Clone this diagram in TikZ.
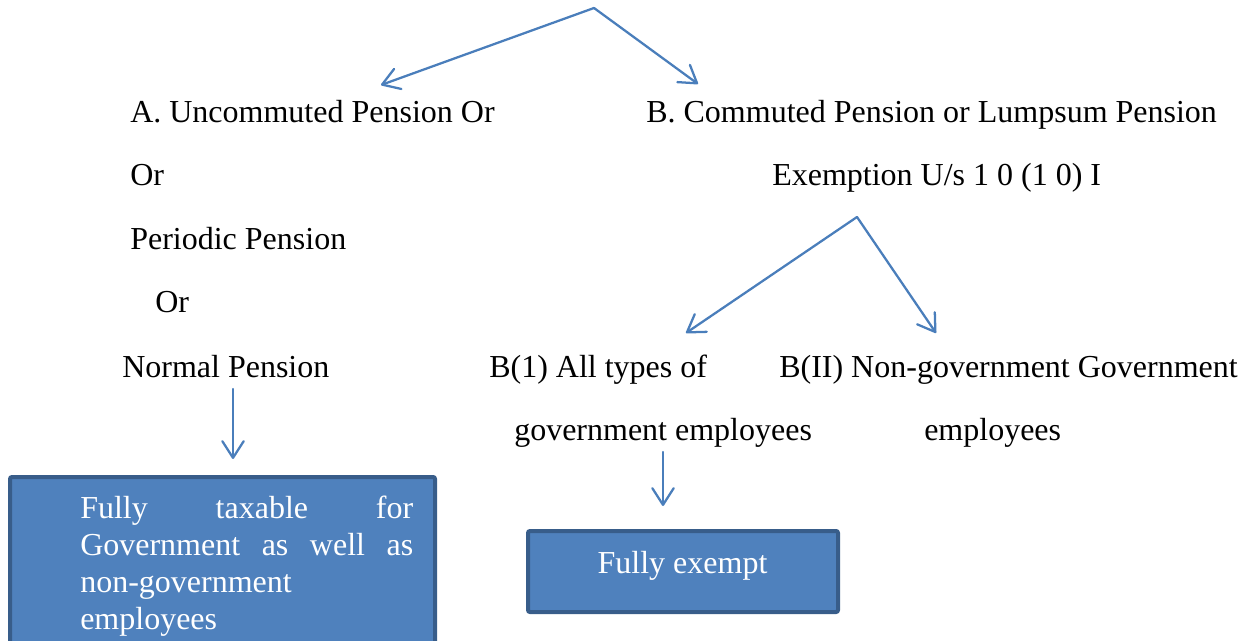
\documentclass[tikz,border=0pt]{standalone}
\usepackage{fontspec}
\setmainfont{Liberation Serif}
\usetikzlibrary{arrows.meta}
\definecolor{arrowblue}{HTML}{4A7EBB}
\definecolor{boxblue}{HTML}{4F81BD}
\definecolor{boxedge}{HTML}{385D8A}

\begin{document}
\begin{tikzpicture}[x=0.75pt, y=-0.75pt,
    every node/.style={font=\fontsize{24}{27.75}\selectfont, inner sep=0pt},
    txt/.style={anchor=base west},
    arr/.style={draw=arrowblue, line width=1.7pt, line cap=round, -{Straight Barb[length=12.5pt, width=16pt, round]}},
    result/.style={draw=boxedge, line width=3pt, fill=boxblue, rounded corners=1.5pt}]
    \useasboundingbox (0,0) rectangle (1241,641);

    % Split into the two kinds of pension
    \coordinate (top) at (594,8);
    \coordinate (atip) at (381,85);
    \coordinate (btip) at (698,84);
    \draw[arr] (top) -- (atip);
    \draw[arr] (top) -- (btip);

    % A: uncommuted pension
    \node[txt] (unc) at (130,123) {A. Uncommuted Pension Or};
    \node[txt] (orone) at (130,186) {Or};
    \node[txt] (periodic) at (130,250) {Periodic Pension};
    \node[txt] (ortwo) at (155,313) {Or};
    \node[txt] (normal) at (122,377) {Normal Pension};

    % B: commuted pension
    \node[txt] (com) at (646,123) {B. Commuted Pension or Lumpsum Pension};
    \node[txt] (exem) at (772,186) {Exemption U/s 1 0 (1 0) I};

    \coordinate (fork) at (857,217);
    \coordinate (onetip) at (686,333);
    \coordinate (twotip) at (936,333);
    \draw[arr] (fork) -- (onetip);
    \draw[arr] (fork) -- (twotip);

    \node[txt] (bone) at (489,377) {B(1) All types of};
    \node[txt] (govt) at (514,440) {government employees};
    \node[txt] (btwo) at (779,377) {B(II) Non-government Government};
    \node[txt] (emp) at (924,440) {employees};

    % Taxable box
    \coordinate (nfrom) at (233,389);
    \coordinate (nto) at (233,459);
    \draw[arr] (nfrom) -- (nto);
    \node[result, minimum width=318.75pt, minimum height=137.25pt] (taxbox) at (222.5,568.5) {};
    \node[txt, text=white, text width=249.75pt, align=left] (taxtext) at (80,518)
        {Fully\hfill taxable\hfill for\\Government\hfill as\hfill well\hfill as\\non-government\\employees};

    % Exempt box
    \coordinate (gfrom) at (663,452);
    \coordinate (gto) at (663,506);
    \draw[arr] (gfrom) -- (gto);
    \node[result, minimum width=232.5pt, minimum height=60.75pt] (exbox) at (683,571.5) {};
    \node[anchor=base, text=white] (extext) at (682.5,573) {Fully exempt};
\end{tikzpicture}
\end{document}
